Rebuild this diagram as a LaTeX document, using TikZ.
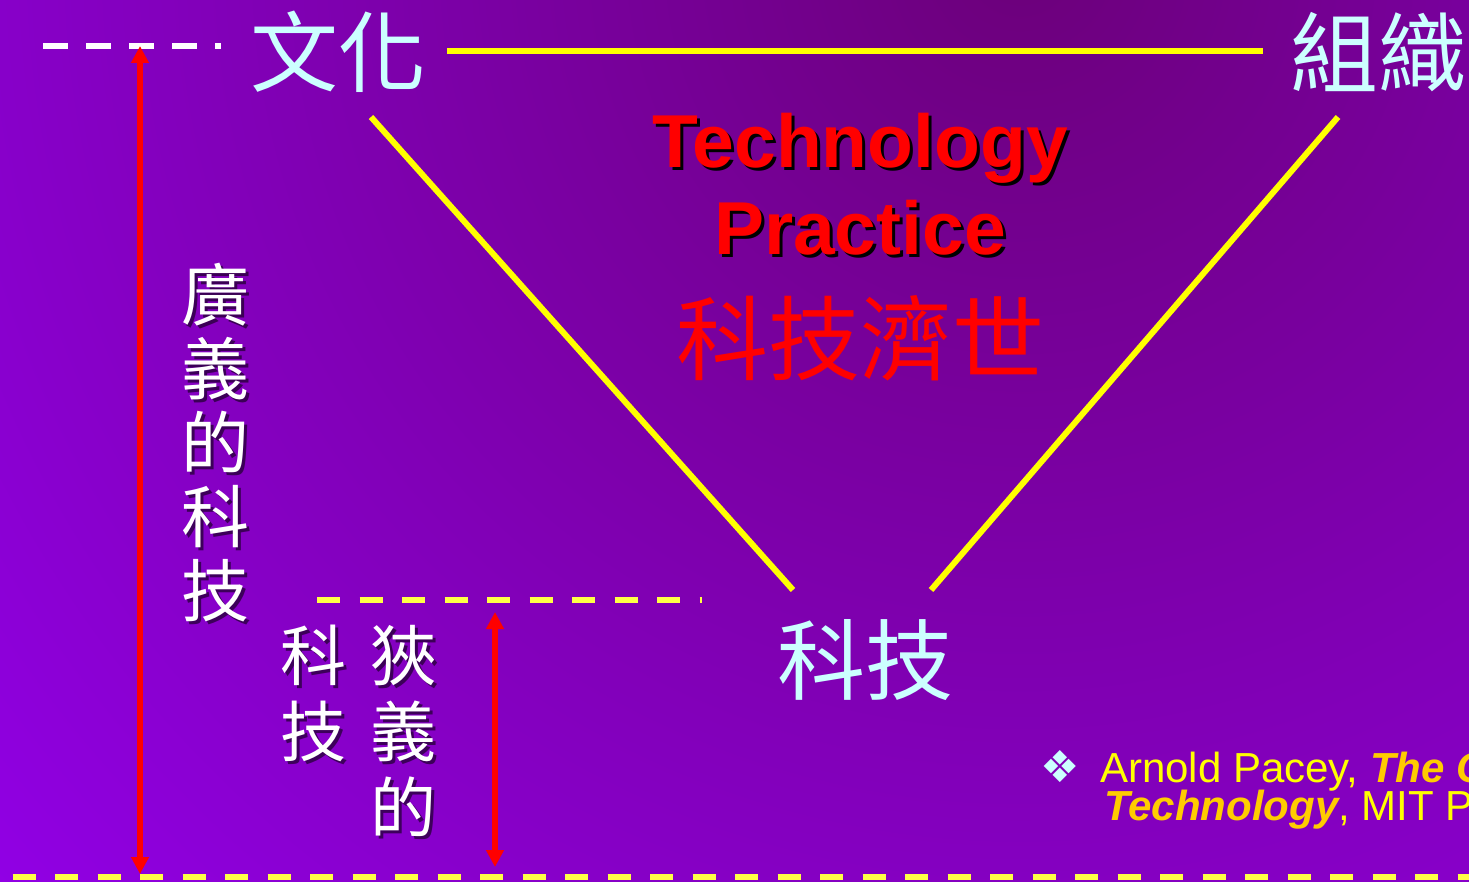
\documentclass[tikz,border=0pt]{standalone}
\usepackage{fontspec}
\setmainfont{Liberation Sans}
\newfontfamily\cjk{Noto Sans CJK TC}
\newfontfamily\dejavu{DejaVu Sans}
\usetikzlibrary{arrows.meta}
\definecolor{bgouter}{RGB}{148,0,238}
\definecolor{bginner}{RGB}{108,0,122}
\definecolor{cyantext}{RGB}{204,255,255}
\definecolor{goldtext}{RGB}{255,204,0}
\definecolor{ylw}{RGB}{255,255,0}
\definecolor{ylwdash}{RGB}{255,255,70}
\tikzset{
  yline/.style={draw=ylw, line width=6pt},
  ydash/.style={draw=ylwdash, line width=6pt, dash pattern=on 23pt off 19.5pt},
  wdash/.style={draw=white, line width=6pt, dash pattern=on 25pt off 18pt},
  redarrow/.style={draw=red, line width=5.5pt, {Triangle[length=17pt,width=17pt]}-{Triangle[length=17pt,width=17pt]}, shorten <=0pt, shorten >=0pt},
  cyanlabel/.style={text=cyantext, font=\cjk\fontsize{88}{88}\selectfont, inner sep=0pt},
  vlabel/.style={text=white, align=center, inner sep=0pt},
  vshadow/.style={text=black, opacity=0.55, align=center, inner sep=0pt},
  redtitle/.style={text=red, font=\bfseries\fontsize{75}{75}\selectfont, inner sep=0pt, anchor=base},
  redshadow/.style={text=black, font=\bfseries\fontsize{75}{75}\selectfont, inner sep=0pt, anchor=base},
  reftext/.style={font=\fontsize{42}{42}\selectfont, inner sep=0pt, anchor=base west}
}
\begin{document}
\begin{tikzpicture}[x=1pt,y=-1pt]
\clip (0,0) rectangle (1469,882);
\useasboundingbox (0,0) rectangle (1469,882);
% background
\fill[bgouter] (0,0) rectangle (1469,882);
\shade[inner color=bginner, outer color=bgouter] (1020,-40) circle (1500);

% top white dashed line
\coordinate (wd1) at (43,46);
\coordinate (wd2) at (221,46);
\draw[wdash] (wd1) -- (wd2);

% top labels
\node[cyanlabel] (wenhua) at (338,52) {文化};
\node[cyanlabel] (zuzhi) at (1378,52) {組織};
\node[cyanlabel] (keji) at (865,660) {科技};

% yellow triangle
\coordinate (t1) at (447,51.5);
\coordinate (t2) at (1263,51.5);
\draw[yline] (t1) -- (t2);
\coordinate (l1) at (371,117);
\coordinate (l2) at (793,590);
\draw[yline] (l1) -- (l2);
\coordinate (r1) at (1338,117);
\coordinate (r2) at (931,590);
\draw[yline] (r1) -- (r2);

% title
\node[redshadow] (techS) at (863,171) {Technology};
\node[redtitle] (tech) at (860,168) {Technology};
\node[redshadow] (pracS) at (863,258) {Practice};
\node[redtitle] (prac) at (860,255) {Practice};
\node[text=red, font=\cjk\fontsize{92}{92}\selectfont, inner sep=0pt] (jishi) at (860,338) {科技濟世};

% broad technology (vertical)
\node[vshadow, font=\cjk\fontsize{68}{74}\selectfont] (broadS) at (218,446) {廣\\義\\的\\科\\技};
\node[vlabel, font=\cjk\fontsize{68}{74}\selectfont] (broad) at (215,443) {廣\\義\\的\\科\\技};

% narrow technology (vertical, two columns)
\node[vshadow, font=\cjk\fontsize{66}{76}\selectfont, anchor=north] (narrowS) at (406,628) {狹\\義\\的};
\node[vlabel, font=\cjk\fontsize{66}{76}\selectfont, anchor=north] (narrow) at (403,625) {狹\\義\\的};
\node[vshadow, font=\cjk\fontsize{66}{76}\selectfont, anchor=north] (narrow2S) at (316,628) {科\\技};
\node[vlabel, font=\cjk\fontsize{66}{76}\selectfont, anchor=north] (narrow2) at (313,625) {科\\技};

% middle yellow dashed line
\coordinate (md1) at (317,600);
\coordinate (md2) at (702,600);
\draw[ydash] (md1) -- (md2);

% bottom yellow dashed line
\coordinate (bd1) at (12.5,877);
\coordinate (bd2) at (1469,877);
\draw[ydash] (bd1) -- (bd2);

% red arrows
\coordinate (a1) at (140,46);
\coordinate (a2) at (140,874);
\draw[redarrow] (a1) -- (a2);
\coordinate (b1) at (495,612);
\coordinate (b2) at (495,867);
\draw[redarrow] (b1) -- (b2);

% reference
\node[text=cyantext, font=\dejavu\fontsize{44}{44}\selectfont, inner sep=0pt] (bullet) at (1060,767) {❖};
\node[reftext] (ref1) at (1100,782) {\color{ylw}Arnold Pacey, \color{goldtext}\bfseries\itshape The Culture of};
\node[reftext] (ref2) at (1104,820) {\color{goldtext}\bfseries\itshape Technology\color{ylw}\mdseries\upshape, MIT Press};
\end{tikzpicture}
\end{document}
